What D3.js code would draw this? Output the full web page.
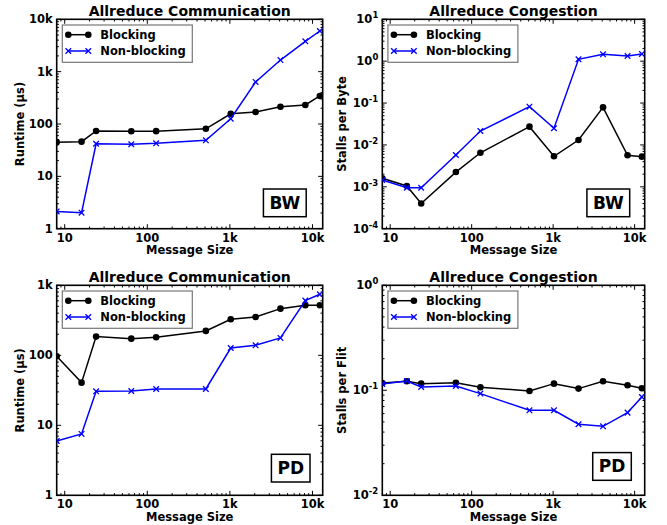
<!DOCTYPE html>
<html><head><meta charset="utf-8">
<script src="https://cdn.jsdelivr.net/npm/d3@7"></script>
<style>body{margin:0;background:#fff}svg{display:block}text{font-family:"DejaVu Sans",sans-serif;font-weight:bold}</style>
</head><body><svg id="c" width="667" height="525"></svg>
<script>
const sizes = [8, 16, 24, 64, 128, 512, 1024, 2048, 4096, 8192, 12288];
const seriesNames = ["Blocking", "Non-blocking"];
const bwRuntimeBlocking = [45, 46, 73.5, 72.5, 73, 81, 157, 169, 214, 231, 343];
const bwRuntimeNonBlocking = [2.14, 2.02, 42, 41, 42.7, 48.7, 126, 636, 1665, 3800, 5980];
const bwStallsBlocking = [1.6e-3, 1.05e-3, 4.0e-4, 2.25e-3, 6.5e-3, 0.0273, 5.35e-3, 0.0131, 0.079, 5.65e-3, 5.25e-3];
const bwStallsNonBlocking = [1.45e-3, 9.5e-4, 9.5e-4, 5.75e-3, 0.0215, 0.082, 0.025, 1.11, 1.46, 1.33, 1.49];
const pdRuntimeBlocking = [96.8, 40.7, 185, 173, 181, 223, 327, 353, 464, 518, 518];
const pdRuntimeNonBlocking = [5.97, 7.52, 30.6, 30.9, 33, 33, 127, 139, 177, 604, 744];
const pdStallsBlocking = [0.1175, 0.122, 0.1157, 0.118, 0.107, 0.0986, 0.1157, 0.1038, 0.122, 0.1116, 0.1045];
const pdStallsNonBlocking = [0.1149, 0.1227, 0.1076, 0.11, 0.093, 0.0645, 0.0645, 0.0475, 0.0454, 0.0613, 0.0864];
const xTicks = [10, 100, 1000, 10000];
const xTickLabels = ["10", "100", "1k", "10k"];

const panels = [
  {title:"Allreduce Communication", ylabel:"Runtime (\u00b5s)", yDomain:[1,10000], yTicks:[1,10,100,1000,10000], yLabels:["1","10","100","1k","10k"], sup:false, data:[bwRuntimeBlocking,bwRuntimeNonBlocking], tag:"BW", box:[56.7,322.7,19.3,228.7], tagInset:[16.5,12]},
  {title:"Allreduce Congestion", ylabel:"Stalls per Byte", yDomain:[1e-4,10], yTicks:[1e-4,1e-3,1e-2,1e-1,1,10], yLabels:["-4","-3","-2","-1","0","1"], sup:true, data:[bwStallsBlocking,bwStallsNonBlocking], tag:"BW", box:[382.3,644.7,19.3,228.7], tagInset:[15,12]},
  {title:"Allreduce Communication", ylabel:"Runtime (\u00b5s)", yDomain:[1,1000], yTicks:[1,10,100,1000], yLabels:["1","10","100","1k"], sup:false, data:[pdRuntimeBlocking,pdRuntimeNonBlocking], tag:"PD", box:[56.7,322.7,285.3,495.3], tagInset:[12.7,13.3]},
  {title:"Allreduce Congestion", ylabel:"Stalls per Flit", yDomain:[1e-2,1], yTicks:[1e-2,1e-1,1], yLabels:["-2","-1","0"], sup:true, data:[pdStallsBlocking,pdStallsNonBlocking], tag:"PD", box:[382.3,644.7,285.3,495.3], tagInset:[13.4,15]}
];
const colors = ["#000000", "#0000ff"];
const svg = d3.select("#c");

function minorTicks(dom){
  const out=[]; const lo=Math.floor(Math.log10(dom[0])), hi=Math.ceil(Math.log10(dom[1]));
  for(let e=lo;e<=hi;e++) for(let k=2;k<=9;k++){const v=k*Math.pow(10,e); if(v>=dom[0]&&v<=dom[1]) out.push(v);}
  return out;
}

panels.forEach(p=>{
  const [x0,x1,y0,y1]=p.box;
  const x=d3.scaleLog().domain([8,13300]).range([x0,x1]);
  const y=d3.scaleLog().domain(p.yDomain).range([y1,y0]);
  const g=svg.append("g");
  const tk=g.append("g").attr("stroke","#000").attr("stroke-width",1);
  const M=4.5, m=2.2;
  xTicks.forEach(v=>{const xx=x(v); tk.append("line").attr("x1",xx).attr("x2",xx).attr("y1",y1).attr("y2",y1-M); tk.append("line").attr("x1",xx).attr("x2",xx).attr("y1",y0).attr("y2",y0+M);});
  minorTicks(x.domain()).forEach(v=>{const xx=x(v); tk.append("line").attr("x1",xx).attr("x2",xx).attr("y1",y1).attr("y2",y1-m); tk.append("line").attr("x1",xx).attr("x2",xx).attr("y1",y0).attr("y2",y0+m);});
  p.yTicks.forEach(v=>{const yy=y(v); tk.append("line").attr("x1",x0).attr("x2",x0+M).attr("y1",yy).attr("y2",yy); tk.append("line").attr("x1",x1).attr("x2",x1-M).attr("y1",yy).attr("y2",yy);});
  minorTicks(p.yDomain).forEach(v=>{const yy=y(v); tk.append("line").attr("x1",x0).attr("x2",x0+m).attr("y1",yy).attr("y2",yy); tk.append("line").attr("x1",x1).attr("x2",x1-m).attr("y1",yy).attr("y2",yy);});
  xTicks.forEach((v,i)=>g.append("text").attr("x",x(v)).attr("y",y1+13).attr("text-anchor","middle").attr("font-size",11.5).text(xTickLabels[i]));
  p.yTicks.forEach((v,i)=>{
    const t=g.append("text").attr("x",x0-4).attr("y",y(v)+4).attr("text-anchor","end").attr("font-size",11.5);
    if(p.sup){t.append("tspan").text("10"); t.append("tspan").attr("dy",-5).attr("font-size",8.5).text(p.yLabels[i]);}
    else t.text(p.yLabels[i]);
  });
  g.append("rect").attr("x",x0).attr("y",y0).attr("width",x1-x0).attr("height",y1-y0).attr("fill","none").attr("stroke","#000").attr("stroke-width",1.6);
  g.append("text").attr("x",(x0+x1)/2).attr("y",y0-3.3).attr("text-anchor","middle").attr("font-size",14).text(p.title);
  g.append("text").attr("x",(x0+x1)/2).attr("y",y1+25.6).attr("text-anchor","middle").attr("font-size",11.5).text("Message Size");
  const lx = p.sup ? x0-36 : x0-33;
  g.append("text").attr("transform",`translate(${lx},${(y0+y1)/2}) rotate(-90)`).attr("text-anchor","middle").attr("font-size",11.5).text(p.ylabel);
  const clip="clip"+Math.round(x0)+"_"+Math.round(y0);
  g.append("clipPath").attr("id",clip).append("rect").attr("x",x0).attr("y",y0).attr("width",x1-x0).attr("height",y1-y0);
  const pg=g.append("g").attr("clip-path",`url(#${clip})`);
  p.data.forEach((arr,si)=>{
    const pts=sizes.map((s,i)=>[x(s),y(arr[i])]);
    pg.append("path").attr("d",d3.line()(pts)).attr("fill","none").attr("stroke",colors[si]).attr("stroke-width",1.5);
    pts.forEach(([px,py])=>{
      if(si===0) pg.append("circle").attr("cx",px).attr("cy",py).attr("r",3.3).attr("fill",colors[si]);
      else pg.append("path").attr("d",`M${px-2.8},${py-2.8}L${px+2.8},${py+2.8}M${px-2.8},${py+2.8}L${px+2.8},${py-2.8}`).attr("stroke",colors[si]).attr("stroke-width",1.3);
    });
  });
  const lg=g.append("g").attr("transform",`translate(${x0+5.6},${y0+5.7})`);
  lg.append("rect").attr("x",0).attr("y",0).attr("width",130).attr("height",37.3).attr("fill","#fff").attr("stroke","#777").attr("stroke-width",1.2);
  seriesNames.forEach((n,si)=>{
    const ly=9.7+si*16.3;
    lg.append("line").attr("x1",6).attr("x2",26).attr("y1",ly).attr("y2",ly).attr("stroke",colors[si]).attr("stroke-width",1.5);
    [6,26].forEach(mx=>{
      if(si===0) lg.append("circle").attr("cx",mx).attr("cy",ly).attr("r",3.3).attr("fill",colors[si]);
      else lg.append("path").attr("d",`M${mx-2.8},${ly-2.8}L${mx+2.8},${ly+2.8}M${mx-2.8},${ly+2.8}L${mx+2.8},${ly-2.8}`).attr("stroke",colors[si]).attr("stroke-width",1.3);
    });
    lg.append("text").attr("x",38).attr("y",ly+4.4).attr("font-size",11.5).text(n);
  });
  const tg=g.append("g");
  const tt=tg.append("text").attr("font-size",17).attr("text-anchor","middle").text(p.tag);
  const w=tt.node().getComputedTextLength()+12, h=27.7;
  const bx=x1-p.tagInset[0]-w, by=y1-p.tagInset[1]-h;
  tg.insert("rect","text").attr("x",bx).attr("y",by).attr("width",w).attr("height",h).attr("fill","#fff").attr("stroke","#000").attr("stroke-width",1.5);
  tt.attr("x",bx+w/2).attr("y",by+h/2+6);
});
</script></body></html>
